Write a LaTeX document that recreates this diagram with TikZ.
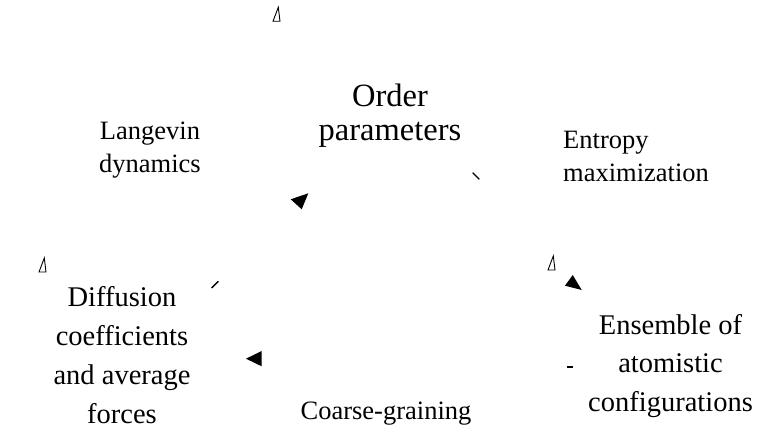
\documentclass[tikz,border=0pt]{standalone}
\usepackage{fontspec}
\setmainfont{Liberation Serif}
\usetikzlibrary{positioning}
\tikzset{
  mainq/.style    = {align=center, inner sep=0pt, anchor=base, font=\fontsize{32.5}{34.5}\selectfont},
  quant/.style    = {align=center, inner sep=0pt, anchor=base, font=\fontsize{28.5}{38.8}\selectfont},
  method/.style   = {inner sep=0pt, font=\fontsize{26.5}{33.5}\selectfont},
  headfill/.style = {fill=black, draw=none},
  headopen/.style = {draw=black, line width=0.9pt, line join=miter},
  tick/.style     = {draw=black, line width=1.4pt},
}
\begin{document}
\begin{tikzpicture}[x=1pt, y=-1pt]
  \useasboundingbox (0,0) rectangle (762,438);
  \node[mainq] (order) at (390,141) {Order\\parameters};
  \node[quant] (diff) at (122,423) {Diffusion\\coefficients\\and average\\forces};
  \node[quant] (ens) at (670.5,411.7) {Ensemble of\\atomistic\\configurations};
  \node[method, align=center, anchor=base] (langevin) at (150,173) {Langevin\\dynamics};
  \node[method, align=left, anchor=base west] (entropy) at (563,181.7) {Entropy\\maximization};
  \node[method, anchor=base] (coarse) at (386,419) {Coarse-graining};

  \draw[headopen] (278.3,7.3) -- (273,21.3) -- (280,21.3) -- cycle;
  \draw[headopen] (44.3,258) -- (39,272) -- (46,272) -- cycle;
  \draw[headopen] (553.3,256) -- (548,270) -- (555,270) -- cycle;
  \fill[headfill] (572.7,275) -- (565,285.7) -- (581.7,290) -- cycle;
  \fill[headfill] (290.7,199.3) -- (308.3,193.3) -- (301.7,209.3) -- cycle;
  \fill[headfill] (246,358.7) -- (261.7,351) -- (261.7,366.3) -- cycle;
  \draw[tick] (472.7,172.7) -- (479.3,179.3);
  \draw[tick] (218.3,281.3) -- (211.7,288);
  \draw[tick] (567,367) -- (573,367);
\end{tikzpicture}
\end{document}
